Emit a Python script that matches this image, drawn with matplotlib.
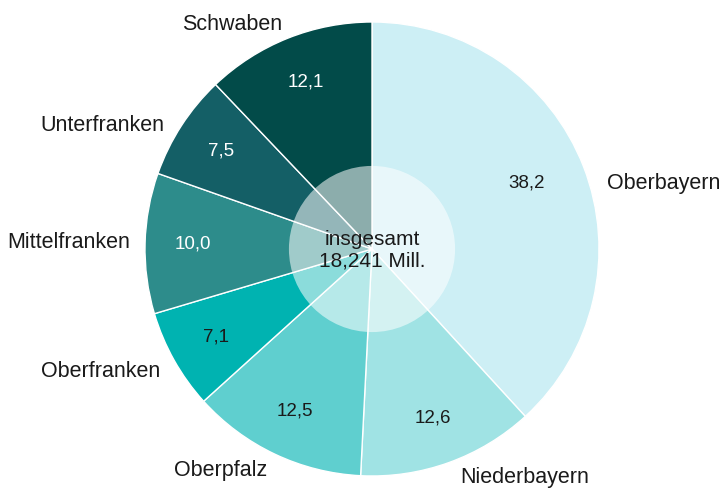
import matplotlib
matplotlib.use("Agg")
import matplotlib.pyplot as plt
from matplotlib.patches import Circle

regions = ["Oberbayern", "Niederbayern", "Oberpfalz", "Oberfranken",
           "Mittelfranken", "Unterfranken", "Schwaben"]
shares = [38.2, 12.6, 12.5, 7.1, 10.0, 7.5, 12.1]
value_labels = ["38,2", "12,6", "12,5", "7,1", "10,0", "7,5", "12,1"]
colors = ["#cdeff5", "#a0e3e4", "#5fcfcf", "#00b3b1", "#2d8c8b", "#145f66", "#024b49"]
text_colors = ["#1a1a1a", "#1a1a1a", "#1a1a1a", "#1a1a1a", "white", "white", "white"]
center_text = "insgesamt\n18,241 Mill."

plt.rcParams['font.family'] = ['Liberation Sans', 'DejaVu Sans']

W, H = 723, 490
fig = plt.figure(figsize=(W / 100, H / 100), dpi=100)
cx, cy, R = 372, 249, 227
ax = fig.add_axes([(cx - R) / W, (H - cy - R) / H, 2 * R / W, 2 * R / H])

wedges, texts, autotexts = ax.pie(
    shares, labels=regions, colors=colors, startangle=90, counterclock=False,
    radius=1.0, labeldistance=1.065, pctdistance=0.79,
    autopct=lambda p: "",
    wedgeprops=dict(edgecolor="white", linewidth=1.0),
    textprops=dict(fontsize=15.5, color="#1a1a1a"),
    frame=True)
ax.set_xlim(-1, 1)
ax.set_ylim(-1, 1)
ax.axis('off')

for at, lab, tc in zip(autotexts, value_labels, text_colors):
    at.set_text(lab)
    at.set_color(tc)
    at.set_fontsize(13.5)

# fine-tune label placement
texts[0].set_position((1.035, 0.29))
texts[1].set_position((0.39, -1.005))
texts[2].set_position((-0.46, -0.975))
texts[3].set_position((-0.935, -0.54))
texts[5].set_position((-0.915, 0.545))
autotexts[0].set_position((0.68, 0.29))

ax.add_patch(Circle((0, 0), 0.366, facecolor="white", alpha=0.55, edgecolor="none", zorder=5))
ax.text(0, -0.005, center_text, ha="center", va="center", fontsize=15,
        color="#1a1a1a", linespacing=1.2, zorder=6)

fig.savefig("out.png", dpi=100)
